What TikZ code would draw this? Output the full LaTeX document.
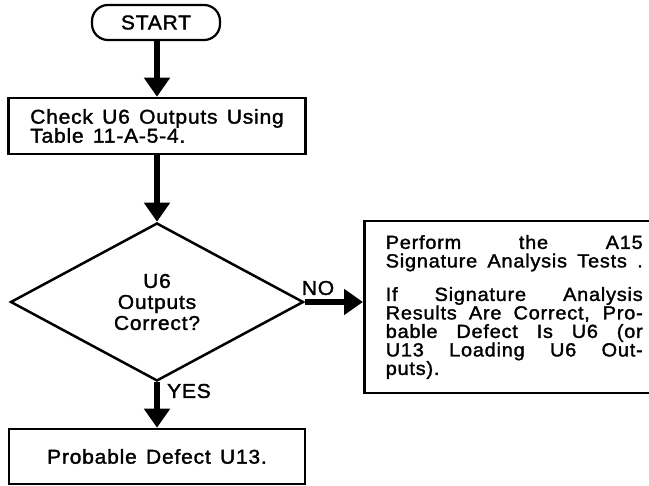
\documentclass[tikz,border=0pt]{standalone}
\usepackage{fontspec}
\setmainfont{Liberation Sans}[FakeStretch=1.05,LetterSpace=4,WordSpace=1.4,FakeBold=1.6]
\usetikzlibrary{arrows.meta,shapes.geometric}
\begin{document}
\begin{tikzpicture}[x=1pt,y=-1pt,
  box/.style={draw,line width=2.5pt,rectangle,inner sep=0pt},
  arr/.style={line width=6.5pt,-{Triangle[width=25pt,length=19pt]}},
  lbl/.style={inner sep=0pt,font=\fontsize{20}{20}\selectfont},
  every node/.style={font=\fontsize{20}{20}\selectfont}]
\useasboundingbox (0,0) rectangle (649,486);
\clip (0,0) rectangle (649,486);
\node[draw,line width=2.2pt,rounded corners=16pt,minimum width=128pt,minimum height=35pt,inner sep=0pt] (start) at (156,22.5) {START};
\node[box,minimum width=297pt,minimum height=56pt,align=left,font=\fontsize{20}{19}\selectfont] (check) at (157,126) {Check U6 Outputs Using\\Table 11-A-5-4.};
\node[draw,line width=2.5pt,diamond,minimum width=293pt,minimum height=158pt,inner sep=0pt,align=center,font=\fontsize{20}{21}\selectfont] (dec) at (157,302) {U6\\Outputs\\Correct?};
\node[box,minimum width=300pt,minimum height=172pt,anchor=west,align=left,font=\fontsize{19}{18.5}\selectfont] (perf) at (363,307) {%
\makebox[257pt][s]{Perform the A15}\\
\makebox[257pt][s]{Signature Analysis Tests .}\\[15pt]
\makebox[257pt][s]{If Signature Analysis}\\
\makebox[257pt][s]{Results Are Correct, Pro-}\\
\makebox[257pt][s]{bable Defect Is U6 (or}\\
\makebox[257pt][s]{U13 Loading U6 Out-}\\
puts).};
\node[box,minimum width=296pt,minimum height=55pt] (defect) at (157,456.5) {Probable Defect U13.};
\node[lbl] (no) at (318,288) {NO};
\node[lbl] (yes) at (189,391) {YES};
\draw[arr] (start.south -| check.north) -- (check.north);
\draw[arr] (check.south) -- (dec.north);
\draw[arr] (dec.east) -- (dec.east -| perf.west);
\draw[arr] (dec.south) -- (defect.north);
\end{tikzpicture}
\end{document}
